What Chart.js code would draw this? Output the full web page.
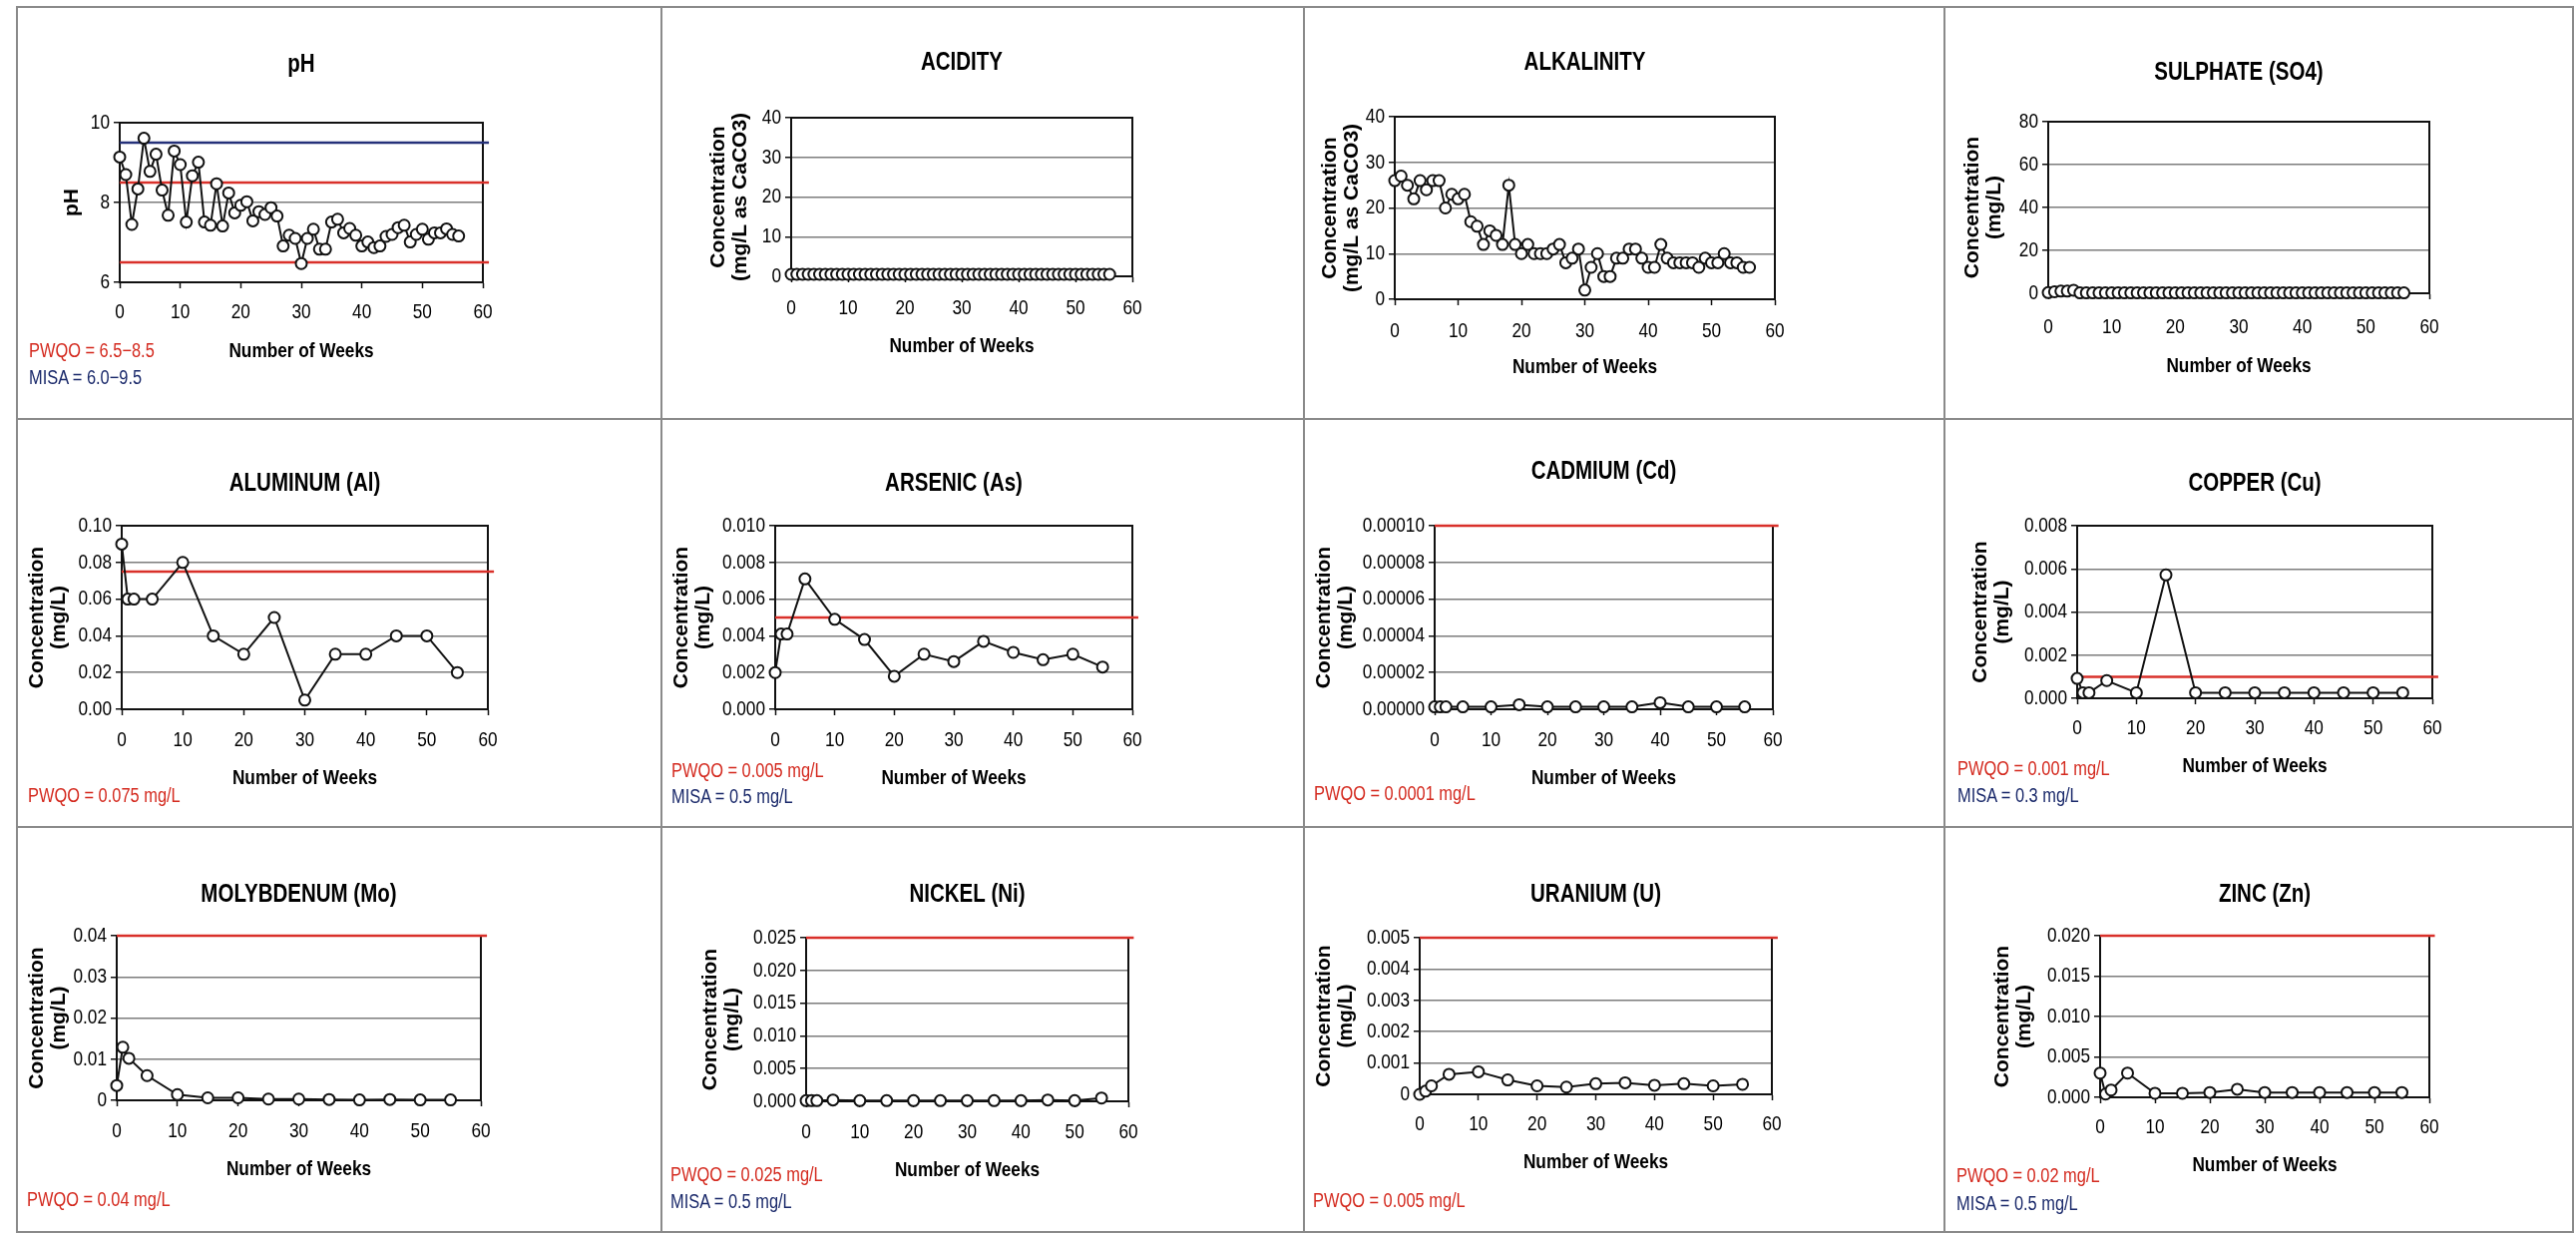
<!DOCTYPE html>
<html>
<head>
<meta charset="utf-8">
<title>Weekly water quality results</title>
<script src="https://cdn.jsdelivr.net/npm/chart.js"></script>
<style>
  body { margin: 0; background: #fff; width: 2582px; height: 1236px; overflow: hidden; position: relative; }
  .rule { position: absolute; background: #8a8a8a; }
  canvas { position: absolute; }
  .note { position: absolute; font-family: 'Liberation Sans', Arial, sans-serif; font-size: 20px; line-height: 24px;
          white-space: nowrap; transform: scaleX(0.82); transform-origin: 0 50%; }
  .pwqo { color: #d42a1f; }
  .misa { color: #1b2a6b; }
</style>
</head>
<body>
<script>
// ---- data ----
const weeksAll = [0,1,2,3,4,5,6,7,8,9,10,11,12,13,14,15,16,17,18,19,20,21,22,23,24,25,26,27,28,29,
  30,31,32,33,34,35,36,37,38,39,40,41,42,43,44,45,46,47,48,49,50,51,52,53,54,55,56];
const weeksMetal = [0,1,2,5,10,15,20,25,30,35,40,45,50,55];
const xTicks = [0,10,20,30,40,50,60];
const xTickLabels = ['0','10','20','30','40','50','60'];
const limitX = [0, 61];

const phValues = [9.14,8.70,7.45,8.34,9.61,8.78,9.21,8.31,7.68,9.29,8.95,7.51,8.67,9.01,7.51,7.43,8.47,7.41,8.24,7.74,
  7.93,8.02,7.54,7.77,7.70,7.87,7.66,6.91,7.18,7.10,6.47,7.10,7.33,6.83,6.83,7.51,7.58,7.24,7.35,7.18,
  6.91,7.01,6.87,6.91,7.15,7.20,7.37,7.43,7.01,7.20,7.33,7.08,7.24,7.24,7.34,7.20,7.16];
const acidityValues = [0.5,0.5,0.5,0.5,0.5,0.5,0.5,0.5,0.5,0.5,0.5,0.5,0.5,0.5,0.5,0.5,0.5,0.5,0.5,0.5,
  0.5,0.5,0.5,0.5,0.5,0.5,0.5,0.5,0.5,0.5,0.5,0.5,0.5,0.5,0.5,0.5,0.5,0.5,0.5,0.5,
  0.5,0.5,0.5,0.5,0.5,0.5,0.5,0.5,0.5,0.5,0.5,0.5,0.5,0.5,0.5,0.5,0.5];
const alkalinityValues = [26,27,25,22,26,24,26,26,20,23,22,23,17,16,12,15,14,12,25,12,
  10,12,10,10,10,11,12,8,9,11,2,7,10,5,5,9,9,11,11,9,
  7,7,12,9,8,8,8,8,7,9,8,8,10,8,8,7,7];
const sulphateValues = [0.3,0.7,1.0,1.0,1.4,0.2,0.2,0.2,0.2,0.2,0.2,0.2,0.2,0.2,0.2,0.2,0.2,0.2,0.2,0.2,
  0.2,0.2,0.2,0.2,0.2,0.2,0.2,0.2,0.2,0.2,0.2,0.2,0.2,0.2,0.2,0.2,0.2,0.2,0.2,0.2,
  0.2,0.2,0.2,0.2,0.2,0.2,0.2,0.2,0.2,0.2,0.2,0.2,0.2,0.2,0.2,0.2,0.2];
const aluminumValues = [0.090,0.060,0.060,0.060,0.080,0.040,0.030,0.050,0.005,0.030,0.030,0.040,0.040,0.020];
const arsenicValues = [0.0020,0.0041,0.0041,0.0071,0.0049,0.0038,0.0018,0.0030,0.0026,0.0037,0.0031,0.0027,0.0030,0.0023];
const cadmiumValues = [0.0000013,0.0000013,0.0000013,0.0000013,0.0000013,0.0000025,0.0000013,0.0000013,0.0000013,0.0000013,0.0000036,0.0000013,0.0000013,0.0000013];
const copperValues = [0.00092,0.00026,0.00026,0.00082,0.00026,0.00572,0.00026,0.00026,0.00026,0.00026,0.00026,0.00026,0.00026,0.00026];
const molybdenumValues = [0.0036,0.0129,0.0102,0.0060,0.0014,0.0006,0.0006,0.0003,0.0003,0.0002,0.0001,0.0002,0.0001,0.0001];
const nickelValues = [0.0001,0.0001,0.0001,0.0002,0.0001,0.0001,0.0001,0.0001,0.0001,0.0001,0.0001,0.0002,0.0001,0.0005];
const uraniumValues = [0.00000,0.00010,0.00027,0.00064,0.00072,0.00046,0.00027,0.00023,0.00034,0.00037,0.00029,0.00034,0.00027,0.00032];
const zincValues = [0.0030,0.0004,0.0009,0.0030,0.0005,0.0005,0.0006,0.0010,0.0006,0.0006,0.0006,0.0006,0.0006,0.0006];

// y ticks (bottom to top)
const phTicks = [6,8,10];                       const phTickLabels = ['6','8','10'];
const acidityTicks = [0,10,20,30,40];            const acidityTickLabels = ['0','10','20','30','40'];
const sulphateTicks = [0,20,40,60,80];           const sulphateTickLabels = ['0','20','40','60','80'];
const aluminumTicks = [0,0.02,0.04,0.06,0.08,0.10];
const aluminumTickLabels = ['0.00','0.02','0.04','0.06','0.08','0.10'];
const arsenicTicks = [0,0.002,0.004,0.006,0.008,0.010];
const arsenicTickLabels = ['0.000','0.002','0.004','0.006','0.008','0.010'];
const cadmiumTicks = [0,0.00002,0.00004,0.00006,0.00008,0.0001];
const cadmiumTickLabels = ['0.00000','0.00002','0.00004','0.00006','0.00008','0.00010'];
const copperTicks = [0,0.002,0.004,0.006,0.008];
const copperTickLabels = ['0.000','0.002','0.004','0.006','0.008'];
const molybdenumTicks = [0,0.01,0.02,0.03,0.04];
const molybdenumTickLabels = ['0','0.01','0.02','0.03','0.04'];
const nickelTicks = [0,0.005,0.010,0.015,0.020,0.025];
const nickelTickLabels = ['0.000','0.005','0.010','0.015','0.020','0.025'];
const uraniumTicks = [0,0.001,0.002,0.003,0.004,0.005];
const uraniumTickLabels = ['0','0.001','0.002','0.003','0.004','0.005'];
const zincTicks = [0,0.005,0.010,0.015,0.020];
const zincTickLabels = ['0.000','0.005','0.010','0.015','0.020'];

// guideline values drawn as horizontal lines
const phPwqo = [6.5, 8.5];  const phMisa = [9.5];
const aluminumPwqo = [0.075];
const arsenicPwqo = [0.005];
const cadmiumPwqo = [0.0001];
const copperPwqo = [0.001];
const molybdenumPwqo = [0.04];
const nickelPwqo = [0.025];
const uraniumPwqo = [0.005];
const zincPwqo = [0.02];

// ---- layout ----
const FONT = "'Liberation Sans', Arial, sans-serif";
const SQUEEZE = 0.82;   // the scanned charts use a narrow face
const colEdges = [17, 663, 1307, 1949, 2579];
const rowEdges = [7, 420, 829, 1235];
const conc = ['Concentration', '(mg/L)'];
const concCa = ['Concentration', '(mg/L as CaCO3)'];

const panels = [
  { col:0, row:0, title:'pH', yTitle:'pH', weeks:weeksAll, values:phValues, ticks:phTicks, tickLabels:phTickLabels,
    pwqo:phPwqo, misa:phMisa, plot:[120,123,484,283], titleY:65, xLabelY:313, xTitleY:352, yTitleX:72,
    notes:[['pwqo','PWQO = 6.5\u22128.5',29,351],['misa','MISA = 6.0\u22129.5',29,378]] },
  { col:1, row:0, title:'ACIDITY', yTitle:concCa, weeks:weeksAll, values:acidityValues, ticks:acidityTicks, tickLabels:acidityTickLabels,
    plot:[793,118,1135,277], titleY:63, xLabelY:309, xTitleY:347, yTitleX:720, notes:[] },
  { col:2, row:0, title:'ALKALINITY', yTitle:concCa, weeks:weeksAll, values:alkalinityValues, ticks:acidityTicks, tickLabels:acidityTickLabels,
    plot:[1398,117,1779,300], titleY:63, xLabelY:332, xTitleY:368, yTitleX:1333, notes:[] },
  { col:3, row:0, title:'SULPHATE (SO4)', yTitle:conc, weeks:weeksAll, values:sulphateValues, ticks:sulphateTicks, tickLabels:sulphateTickLabels,
    plot:[2053,122,2435,294], titleY:73, xLabelY:328, xTitleY:367, yTitleX:1977, notes:[] },
  { col:0, row:1, title:'ALUMINUM (Al)', yTitle:conc, weeks:weeksMetal, values:aluminumValues, ticks:aluminumTicks, tickLabels:aluminumTickLabels,
    pwqo:aluminumPwqo, plot:[122,527,489,711], titleY:485, xLabelY:742, xTitleY:780, yTitleX:37,
    notes:[['pwqo','PWQO = 0.075 mg/L',28,797]] },
  { col:1, row:1, title:'ARSENIC (As)', yTitle:conc, weeks:weeksMetal, values:arsenicValues, ticks:arsenicTicks, tickLabels:arsenicTickLabels,
    pwqo:arsenicPwqo, plot:[777,527,1135,711], titleY:485, xLabelY:742, xTitleY:780, yTitleX:683,
    notes:[['pwqo','PWQO = 0.005 mg/L',673,772],['misa','MISA = 0.5 mg/L',673,798]] },
  { col:2, row:1, title:'CADMIUM (Cd)', yTitle:conc, weeks:weeksMetal, values:cadmiumValues, ticks:cadmiumTicks, tickLabels:cadmiumTickLabels,
    pwqo:cadmiumPwqo, plot:[1438,527,1777,711], titleY:473, xLabelY:742, xTitleY:780, yTitleX:1327,
    notes:[['pwqo','PWQO = 0.0001 mg/L',1317,795]] },
  { col:3, row:1, title:'COPPER (Cu)', yTitle:conc, weeks:weeksMetal, values:copperValues, ticks:copperTicks, tickLabels:copperTickLabels,
    pwqo:copperPwqo, plot:[2082,527,2438,700], titleY:485, xLabelY:730, xTitleY:768, yTitleX:1985,
    notes:[['pwqo','PWQO = 0.001 mg/L',1962,770],['misa','MISA = 0.3 mg/L',1962,797]] },
  { col:0, row:2, title:'MOLYBDENUM (Mo)', yTitle:conc, weeks:weeksMetal, values:molybdenumValues, ticks:molybdenumTicks, tickLabels:molybdenumTickLabels,
    pwqo:molybdenumPwqo, plot:[117,938,482,1103], titleY:897, xLabelY:1134, xTitleY:1172, yTitleX:37,
    notes:[['pwqo','PWQO = 0.04 mg/L',27,1202]] },
  { col:1, row:2, title:'NICKEL (Ni)', yTitle:conc, weeks:weeksMetal, values:nickelValues, ticks:nickelTicks, tickLabels:nickelTickLabels,
    pwqo:nickelPwqo, plot:[808,940,1131,1104], titleY:897, xLabelY:1135, xTitleY:1173, yTitleX:712,
    notes:[['pwqo','PWQO = 0.025 mg/L',672,1177],['misa','MISA = 0.5 mg/L',672,1204]] },
  { col:2, row:2, title:'URANIUM (U)', yTitle:conc, weeks:weeksMetal, values:uraniumValues, ticks:uraniumTicks, tickLabels:uraniumTickLabels,
    pwqo:uraniumPwqo, plot:[1423,940,1776,1097], titleY:897, xLabelY:1127, xTitleY:1165, yTitleX:1327,
    notes:[['pwqo','PWQO = 0.005 mg/L',1316,1203]] },
  { col:3, row:2, title:'ZINC (Zn)', yTitle:conc, weeks:weeksMetal, values:zincValues, ticks:zincTicks, tickLabels:zincTickLabels,
    pwqo:zincPwqo, plot:[2105,938,2435,1100], titleY:897, xLabelY:1130, xTitleY:1168, yTitleX:2007,
    notes:[['pwqo','PWQO = 0.02 mg/L',1961,1178],['misa','MISA = 0.5 mg/L',1961,1206]] }
];

// table rules
function addRule(x, y, w, h) {
  const d = document.createElement('div');
  d.className = 'rule';
  d.style.left = x + 'px'; d.style.top = y + 'px';
  d.style.width = w + 'px'; d.style.height = h + 'px';
  document.body.appendChild(d);
}
colEdges.forEach(x => addRule(x - 1, rowEdges[0] - 1, 2, rowEdges[3] - rowEdges[0] + 2));
rowEdges.forEach(y => addRule(colEdges[0] - 1, y - 1, colEdges[4] - colEdges[0] + 2, 2));

// black box round the plot area, like the old spreadsheet charts
const framePlugin = {
  id: 'frame',
  beforeDatasetsDraw(chart) {
    const { ctx, chartArea: a } = chart;
    ctx.save();
    ctx.strokeStyle = '#111';
    ctx.lineWidth = 2;
    ctx.strokeRect(a.left, a.top, a.right - a.left, a.bottom - a.top);
    ctx.restore();
  }
};

// horizontal text is drawn narrow; rotated axis titles are left alone
const narrowTextPlugin = {
  id: 'narrowText',
  beforeDraw(chart) {
    const ctx = chart.ctx;
    if (ctx._plainFillText) return;
    ctx._plainFillText = ctx.fillText;
    ctx.fillText = function (text, x, y, maxWidth) {
      const m = this.getTransform();
      if (Math.abs(m.b) > 0.01) {
        return maxWidth === undefined ? this._plainFillText(text, x, y) : this._plainFillText(text, x, y, maxWidth);
      }
      this.save();
      this.translate(x, y);
      this.scale(SQUEEZE, 1);
      if (maxWidth === undefined) this._plainFillText(text, 0, 0);
      else this._plainFillText(text, 0, 0, maxWidth / SQUEEZE);
      this.restore();
    };
  }
};

function limitLine(v, color) {
  return {
    data: limitX.map(x => ({ x: x, y: v })),
    borderColor: color, borderWidth: 2.5, pointRadius: 0, clip: false, order: 1
  };
}

function buildPanel(p) {
  const cx = colEdges[p.col] + 2, cy = rowEdges[p.row] + 2;
  const cw = colEdges[p.col + 1] - colEdges[p.col] - 4;
  const ch = rowEdges[p.row + 1] - rowEdges[p.row] - 4;
  const [L, T, R, B] = p.plot;

  const canvas = document.createElement('canvas');
  canvas.width = cw; canvas.height = ch;
  canvas.style.left = cx + 'px'; canvas.style.top = cy + 'px';
  document.body.appendChild(canvas);

  const datasets = [{
    data: p.weeks.map((w, i) => ({ x: w, y: p.values[i] })),
    borderColor: '#111', borderWidth: 2,
    pointRadius: 5.5, pointBorderWidth: 2,
    pointBackgroundColor: '#fff', pointBorderColor: '#111',
    tension: 0, clip: false, order: 0
  }];
  (p.pwqo || []).forEach(v => datasets.push(limitLine(v, '#d9302a')));
  (p.misa || []).forEach(v => datasets.push(limitLine(v, '#25317a')));

  new Chart(canvas, {
    type: 'line',
    data: { datasets: datasets },
    plugins: [narrowTextPlugin, framePlugin],
    options: {
      responsive: false,
      animation: false,
      devicePixelRatio: 1,
      layout: { padding: { left: 0, top: 0, bottom: 0, right: cx + cw - R } },
      plugins: {
        legend: { display: false },
        tooltip: { enabled: false },
        title: {
          display: true, text: p.title, fullSize: false, color: '#000',
          font: { family: FONT, size: 25, weight: 'bold', lineHeight: '30px' },
          padding: { top: p.titleY - 15 - cy, bottom: T - (p.titleY + 15) }
        }
      },
      scales: {
        x: {
          type: 'linear', min: 0, max: 60,
          afterFit: s => { s.height = cy + ch - B; },
          afterBuildTicks: s => { s.ticks = xTicks.map(v => ({ value: v })); },
          ticks: {
            callback: (v, i) => xTickLabels[i],
            font: { family: FONT, size: 21, lineHeight: '25px' },
            color: '#000', padding: p.xLabelY - B - 6 - 12.5,
            maxRotation: 0, autoSkip: false
          },
          grid: { drawOnChartArea: false, tickLength: 6, tickColor: '#111', tickWidth: 1.5 },
          border: { color: '#111', width: 2 },
          title: {
            display: true, text: 'Number of Weeks', color: '#000',
            font: { family: FONT, size: 21, weight: 'bold', lineHeight: '25px' },
            padding: { top: 0, bottom: cy + ch - p.xTitleY - 12.5 }
          }
        },
        y: {
          min: p.ticks[0], max: p.ticks[p.ticks.length - 1],
          afterFit: s => { s.width = L - cx; },
          afterBuildTicks: s => { s.ticks = p.ticks.map(v => ({ value: v })); },
          ticks: {
            callback: (v, i) => p.tickLabels[i],
            font: { family: FONT, size: 21, lineHeight: '25px' },
            color: '#000', padding: 4
          },
          grid: { color: '#7d7d7d', lineWidth: 1.5, tickLength: 6, tickColor: '#111', tickWidth: 1.5 },
          border: { color: '#111', width: 2 },
          title: {
            display: true, text: p.yTitle, color: '#000',
            font: { family: FONT, size: 21, weight: 'bold', lineHeight: '22px' },
            padding: { top: p.yTitleX - cx - 11, bottom: 0 }
          }
        }
      }
    }
  });

  p.notes.forEach(n => {
    const d = document.createElement('div');
    d.className = 'note ' + n[0];
    d.textContent = n[1];
    d.style.left = n[2] + 'px';
    d.style.top = (n[3] - 12) + 'px';
    document.body.appendChild(d);
  });
}

panels.forEach(buildPanel);
</script>
</body>
</html>
